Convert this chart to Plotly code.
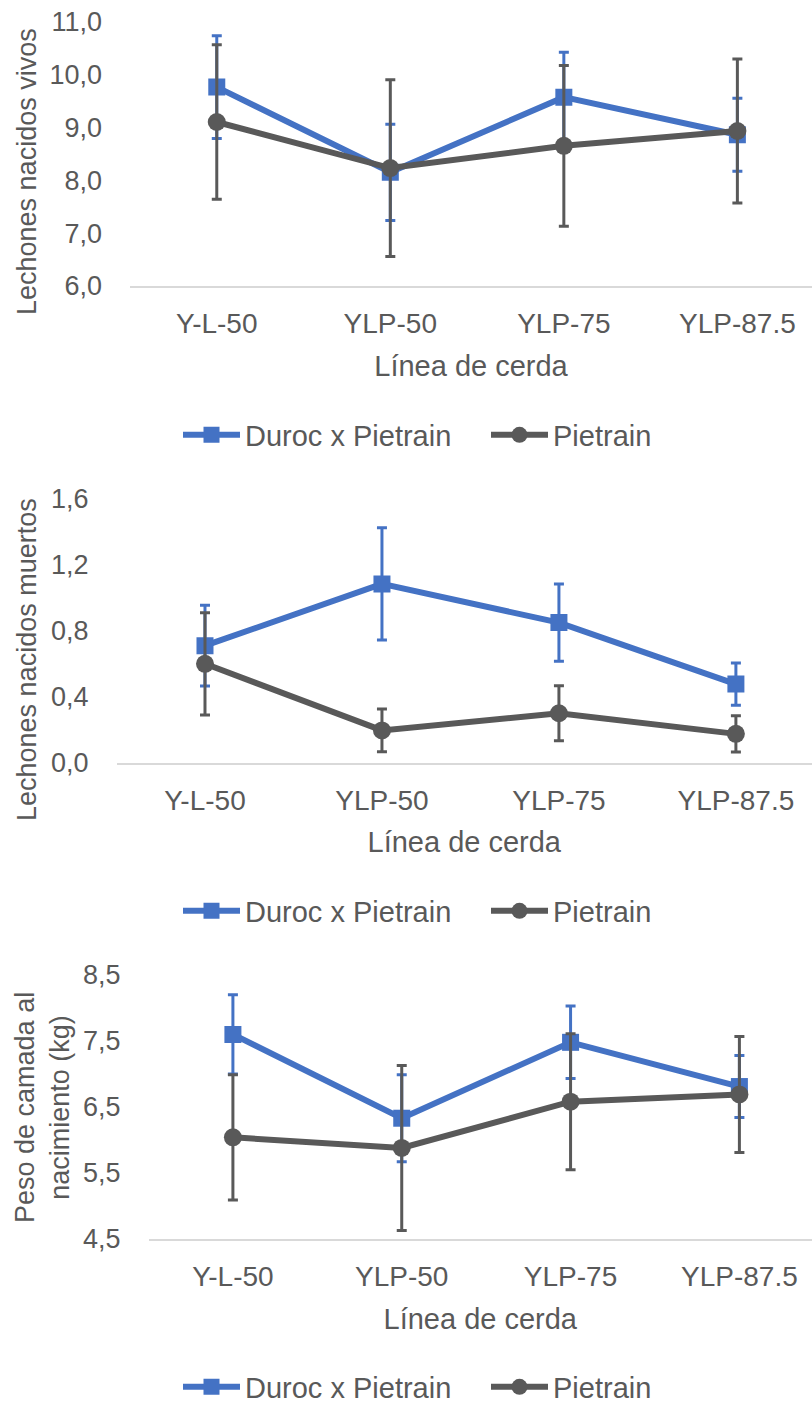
import plotly.graph_objects as go

categories = ["Y-L-50", "YLP-50", "YLP-75", "YLP-87.5"]
series_names = ["Duroc x Pietrain", "Pietrain"]

# Chart 1: Lechones nacidos vivos
vivos_duroc = [9.76, 8.15, 9.57, 8.86]
vivos_duroc_err = [0.97, 0.91, 0.85, 0.69]
vivos_pietrain = [9.10, 8.23, 8.65, 8.93]
vivos_pietrain_err = [1.46, 1.67, 1.52, 1.36]

# Chart 2: Lechones nacidos muertos
muertos_duroc = [0.71, 1.085, 0.85, 0.477]
muertos_duroc_err = [0.245, 0.34, 0.235, 0.128]
muertos_pietrain = [0.60, 0.196, 0.30, 0.175]
muertos_pietrain_err = [0.31, 0.13, 0.167, 0.11]

# Chart 3: Peso de camada al nacimiento (kg)
peso_duroc = [7.60, 6.33, 7.48, 6.81]
peso_duroc_err = [0.60, 0.66, 0.55, 0.47]
peso_pietrain = [6.04, 5.88, 6.58, 6.69]
peso_pietrain_err = [0.95, 1.25, 1.03, 0.88]

y_titles = ["Lechones nacidos vivos", "Lechones nacidos muertos", "Peso de camada al<br>nacimiento (kg)"]
x_title = "Línea de cerda"

BLUE = "#4472C4"
GRAY = "#595959"
TEXT = "#595959"
FONT = "Liberation Sans, Arial, sans-serif"
H = 1403.0
W = 812.0

fig = go.Figure()

panels = [
    (vivos_duroc, vivos_duroc_err, vivos_pietrain, vivos_pietrain_err),
    (muertos_duroc, muertos_duroc_err, muertos_pietrain, muertos_pietrain_err),
    (peso_duroc, peso_duroc_err, peso_pietrain, peso_pietrain_err),
]

# pixel layout: (plot top, plot bottom, plot left)
px = [(21.5, 286.0, 130.0), (499.0, 762.7, 116.5), (975.0, 1239.0, 148.5)]
yranges = [(6, 11, 1), (0, 1.6, 0.4), (4.5, 8.5, 1)]
legend_y = [435, 911, 1387]
ytitle_pos = [(27, 172), (27, 660), (42, 1108)]

for i, (d, de, p, pe) in enumerate(panels):
    n = "" if i == 0 else str(i + 1)
    leg = "legend" if i == 0 else "legend%d" % (i + 1)
    for name, vals, errs, color, sym, size in [
        (series_names[0], d, de, BLUE, "square", 17),
        (series_names[1], p, pe, GRAY, "circle", 18),
    ]:
        fig.add_trace(go.Scatter(
            x=categories, y=vals, name=name, mode="lines+markers",
            line=dict(color=color, width=6),
            marker=dict(symbol=sym, size=size, color=color),
            error_y=dict(type="data", array=errs, visible=True, color=color,
                         thickness=3, width=5),
            xaxis="x" + n, yaxis="y" + n, legend=leg,
        ))
    top, bot, left = px[i]
    y0, y1, dt = yranges[i]
    fig.update_layout(**{
        "xaxis" + n: dict(
            domain=[left / W, 1.0], anchor="y" + n, type="category",
            range=[-0.5, 3.43], showline=True, linecolor="#D9D9D9", linewidth=1.5,
            showgrid=False, zeroline=False, ticks="",
            ticklabelstandoff=12,
            tickfont=dict(size=28, color=TEXT, family=FONT),
            title=dict(text=x_title, font=dict(size=29, color=TEXT, family=FONT), standoff=17),
        ),
        "yaxis" + n: dict(
            domain=[1 - bot / H, 1 - top / H], anchor="x" + n,
            range=[y0, y1], dtick=dt, tick0=y0, tickformat=".1f",
            showgrid=False, zeroline=False, showline=False, ticks="",
            ticklabelstandoff=27,
            tickfont=dict(size=27, color=TEXT, family=FONT),
        ),
        leg: dict(
            orientation="h", x=178 / W, xanchor="left",
            y=1 - legend_y[i] / H, yanchor="middle",
            font=dict(size=29, color=TEXT, family=FONT),
            bgcolor="rgba(0,0,0,0)", itemwidth=57, tracegroupgap=0,
            entrywidth=236, entrywidthmode="pixels",
        ),
    })
    tx, ty = ytitle_pos[i]
    fig.add_annotation(
        text=y_titles[i], textangle=-90, x=tx / W, y=1 - ty / H,
        xref="paper", yref="paper", showarrow=False,
        xanchor="center", yanchor="middle",
        font=dict(size=27, color=TEXT, family=FONT),
    )

fig.update_layout(
    width=812, height=1403,
    margin=dict(l=0, r=0, t=0, b=0, autoexpand=False),
    paper_bgcolor="white", plot_bgcolor="white",
    separators=",.",
    showlegend=True,
)

fig.write_html("out.html", config={"displayModeBar": False},
               post_script="document.body.style.margin='0px';")
